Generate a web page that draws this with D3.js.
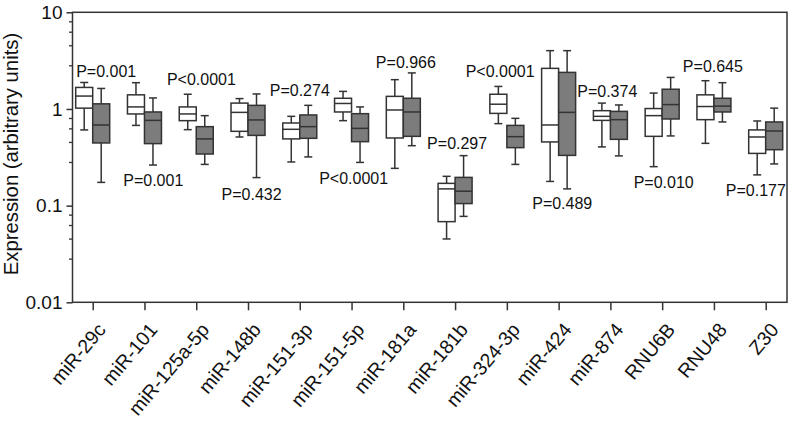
<!DOCTYPE html>
<html><head><meta charset="utf-8">
<script src="https://cdn.jsdelivr.net/npm/d3@7"></script>
<style>body{margin:0;background:#fff} svg{display:block}</style>
</head><body><svg id="chart" width="793" height="424"></svg>
<script>
// ---------- DATA ----------
const categories = ["miR-29c","miR-101","miR-125a-5p","miR-148b","miR-151-3p","miR-151-5p","miR-181a","miR-181b","miR-324-3p","miR-424","miR-874","RNU6B","RNU48","Z30"];
// Group 1 (white boxes)
const whiteMin    = [0.607,0.676,0.611,0.513,0.283,0.757,0.243,0.0452,0.705,0.178,0.405,0.253,0.441,0.208];
const whiteQ1     = [1.02, 0.888,0.757,0.587,0.490,0.931,0.501,0.0683,0.900,0.456,0.762,0.521,0.775,0.347];
const whiteMedian = [1.36, 1.05, 0.888,0.922,0.616,1.14, 0.976,0.149, 1.12, 0.683,0.839,0.853,1.06, 0.513];
const whiteQ3     = [1.67, 1.40, 1.05, 1.15, 0.716,1.29, 1.35, 0.170, 1.42, 2.63, 0.960,1.01, 1.40, 0.607];
const whiteMax    = [1.88, 1.87, 1.42, 1.28, 0.839,1.52, 2.01, 0.201, 1.71, 4.01, 1.15, 1.46, 1.96, 0.751];
// Group 2 (grey boxes)
const greyMin     = [0.174,0.263,0.267,0.195,0.319,0.280,0.417,0.0774,0.267,0.149,0.327,0.526,0.734,0.270];
const greyQ1      = [0.445,0.438,0.342,0.533,0.497,0.459,0.521,0.105, 0.398,0.331,0.485,0.788,0.931,0.379];
const greyMedian  = [0.683,0.762,0.490,0.770,0.656,0.630,0.931,0.141, 0.517,0.922,0.775,1.11, 1.07, 0.592];
const greyQ3      = [1.13, 0.931,0.656,1.09, 0.867,0.894,1.29, 0.196, 0.676,2.39, 0.944,1.60, 1.29, 0.734];
const greyMax     = [1.63, 1.30, 0.853,1.43, 1.09, 1.05, 2.36, 0.329, 0.800,4.01, 1.10, 2.12, 1.87, 1.02];
// P-value annotations
const pLabels = ["P=0.001","P=0.001","P<0.0001","P=0.432","P=0.274","P<0.0001","P=0.966","P=0.297","P<0.0001","P=0.489","P=0.374","P=0.010","P=0.645","P=0.177"];
// annotation anchor (baseline) in data units, and horizontal shift in band steps
const pLabelAt    = [2.13,0.159,1.76,0.115,1.373,0.1676,2.655,0.386,2.12,0.0931,1.33,0.1524,2.41,0.1268];
const pLabelShift = [0.26,0.17,0.10,0.07,0.0,0.04,0.05,0.04,-0.13,0.07,-0.06,0.03,-0.02,-0.19];
// Axis ticks
const yMajorTicks = [0.01,0.1,1,10];
const yTickLabels = ["0.01","0.1","1","10"];
const yMinorMult  = [2.83,4.56,6.3,8.07];
const yTitle = "Expression (arbitrary units)";

// ---------- LAYOUT ----------
const svg = d3.select("#chart");
const plotLeft = 72.5, plotRight = 787, plotTop = 12.3, plotBottom = 302.3;
const font = "'Liberation Sans', Arial, Helvetica, sans-serif";
const strokeCol = "#333";
const y = d3.scaleLog().domain([0.01,10]).range([plotBottom, plotTop]);
const x = d3.scalePoint().domain(categories).range([92.7, 765.7]);
const boxW = 17, capW = 8;

// frame
svg.append("rect").attr("x",plotLeft).attr("y",plotTop).attr("width",plotRight-plotLeft).attr("height",plotBottom-plotTop)
  .attr("fill","none").attr("stroke",strokeCol).attr("stroke-width",1.5);

// y axis major
const yAxis = svg.append("g").attr("transform",`translate(${plotLeft},0)`)
  .call(d3.axisLeft(y).tickValues(yMajorTicks).tickSize(6).tickPadding(4)
     .tickFormat((d,i)=>yTickLabels[i]));
yAxis.select(".domain").remove();
yAxis.selectAll("line").attr("stroke",strokeCol).attr("stroke-width",1.5);
yAxis.selectAll("text").attr("font-family",font).attr("font-size",19).attr("fill","#111");

// y axis minor
const minorVals = [];
yMajorTicks.slice(0,-1).forEach(m=>yMinorMult.forEach(k=>minorVals.push(m*k)));
const yMinor = svg.append("g").attr("transform",`translate(${plotLeft},0)`)
  .call(d3.axisLeft(y).tickValues(minorVals).tickSize(3.5).tickFormat(""));
yMinor.select(".domain").remove();
yMinor.selectAll("line").attr("stroke",strokeCol).attr("stroke-width",1.3);

// x axis
const xAxis = svg.append("g").attr("transform",`translate(0,${plotBottom})`)
  .call(d3.axisBottom(x).tickSize(8).tickFormat(""));
xAxis.select(".domain").remove();
xAxis.selectAll("line").attr("stroke",strokeCol).attr("stroke-width",1.5);
svg.append("g").selectAll("text").data(categories).join("text")
  .attr("transform",d=>`translate(${x(d)+14},${plotBottom+28}) rotate(-50)`)
  .attr("text-anchor","end")
  .attr("font-family",font).attr("font-size",19.5).attr("fill","#111")
  .text(d=>d);

// y title
svg.append("text").attr("transform",`translate(18,154) rotate(-90)`)
  .attr("text-anchor","middle").attr("font-family",font).attr("font-size",20.3).attr("fill","#111")
  .text(yTitle);

// boxes
function drawBoxes(mins,q1s,meds,q3s,maxs,offset,fill){
  const g = svg.append("g");
  categories.forEach((c,i)=>{
    const cx = x(c)+offset;
    const gg = g.append("g");
    gg.append("line").attr("x1",cx).attr("x2",cx).attr("y1",y(maxs[i])).attr("y2",y(q3s[i]));
    gg.append("line").attr("x1",cx).attr("x2",cx).attr("y1",y(q1s[i])).attr("y2",y(mins[i]));
    gg.append("line").attr("x1",cx-capW/2).attr("x2",cx+capW/2).attr("y1",y(maxs[i])).attr("y2",y(maxs[i]));
    gg.append("line").attr("x1",cx-capW/2).attr("x2",cx+capW/2).attr("y1",y(mins[i])).attr("y2",y(mins[i]));
    gg.append("rect").attr("x",cx-boxW/2).attr("width",boxW)
      .attr("y",y(q3s[i])).attr("height",y(q1s[i])-y(q3s[i])).attr("fill",fill);
    gg.append("line").attr("x1",cx-boxW/2).attr("x2",cx+boxW/2).attr("y1",y(meds[i])).attr("y2",y(meds[i]));
    gg.selectAll("line,rect").attr("stroke",strokeCol).attr("stroke-width",1.5);
  });
}
drawBoxes(whiteMin,whiteQ1,whiteMedian,whiteQ3,whiteMax,-boxW/2,"#fff");
drawBoxes(greyMin,greyQ1,greyMedian,greyQ3,greyMax,boxW/2,"#7c7c7c");

// p labels
svg.append("g").selectAll("text").data(categories).join("text")
  .attr("x",(d,i)=>x(d)+pLabelShift[i]*x.step())
  .attr("y",(d,i)=>y(pLabelAt[i]))
  .attr("text-anchor","middle")
  .attr("font-family",font).attr("font-size",16).attr("fill","#111")
  .text((d,i)=>pLabels[i]);
</script></body></html>
